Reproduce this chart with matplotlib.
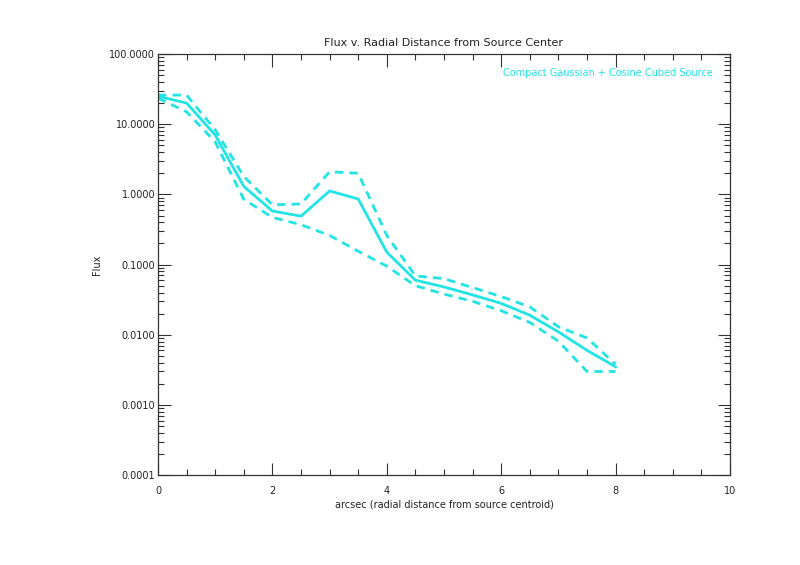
import numpy as np
import matplotlib
matplotlib.use("Agg")
import matplotlib.pyplot as plt
from matplotlib.ticker import FixedLocator, LogLocator, FuncFormatter, NullFormatter

radius = [0, 0.5, 1, 1.5, 2, 2.5, 3, 3.5, 4, 4.5, 5, 5.5, 6, 6.5, 7, 7.5, 8]
flux = [25, 20, 7.0, 1.3, 0.58, 0.49, 1.12, 0.86, 0.15, 0.06, 0.048, 0.037,
        0.028, 0.019, 0.011, 0.006, 0.0035]
flux_upper = [26, 26, 8.3, 1.8, 0.71, 0.73, 2.1, 2.0, 0.26, 0.069, 0.063,
              0.047, 0.035, 0.025, 0.013, 0.009, 0.0038]
flux_lower = [23.5, 15, 5.6, 0.85, 0.47, 0.37, 0.26, 0.155, 0.095, 0.05,
              0.038, 0.030, 0.022, 0.015, 0.0081, 0.003, 0.003]

title = "Flux v. Radial Distance from Source Center"
xlabel = "arcsec (radial distance from source centroid)"
ylabel = "Flux"
legend_text = "Compact Gaussian + Cosine Cubed Source"

color = "#22e4e4"

fig = plt.figure(figsize=(8, 5.65), dpi=100)
ax = fig.add_axes([0.1975, 0.159, 0.715, 0.7454])

ax.plot(radius, flux, color=color, lw=2)
ax.plot(radius, flux_upper, color=color, lw=2, ls=(0, (3, 2.2)))
ax.plot(radius, flux_lower, color=color, lw=2, ls=(0, (3, 2.2)))

ax.set_yscale("log")
ax.set_xlim(0, 10)
ax.set_ylim(1e-4, 100)

ax.xaxis.set_major_locator(FixedLocator([0, 2, 4, 6, 8, 10]))
ax.xaxis.set_minor_locator(FixedLocator(np.arange(0, 10.01, 0.5)))
ax.yaxis.set_major_locator(LogLocator(base=10, numticks=20))
ax.yaxis.set_minor_locator(LogLocator(base=10, subs=np.arange(2, 10), numticks=20))
ax.yaxis.set_major_formatter(FuncFormatter(lambda v, p: f"{v:.4f}"))
ax.yaxis.set_minor_formatter(NullFormatter())
ax.xaxis.set_major_formatter(FuncFormatter(lambda v, p: f"{v:g}"))

ax.tick_params(which="both", direction="in", top=True, right=True,
               labelsize=7, color="#333333", width=0.8, labelcolor="#222222")
ax.tick_params(which="major", length=9)
ax.tick_params(which="minor", length=4.5)
ax.tick_params(axis="x", which="major", pad=8)
ax.tick_params(axis="y", which="major", pad=2)
for s in ax.spines.values():
    s.set_color("#333333")
    s.set_linewidth(0.9)

ax.set_title(title, fontsize=8, pad=6, color="#222222")
ax.set_xlabel(xlabel, fontsize=7, labelpad=2, color="#222222")
ax.set_ylabel(ylabel, fontsize=7, labelpad=5, color="#222222")
ax.text(0.97, 0.955, legend_text, transform=ax.transAxes, ha="right", va="center",
        fontsize=7, color=color)

fig.savefig("out.png", dpi=100)
